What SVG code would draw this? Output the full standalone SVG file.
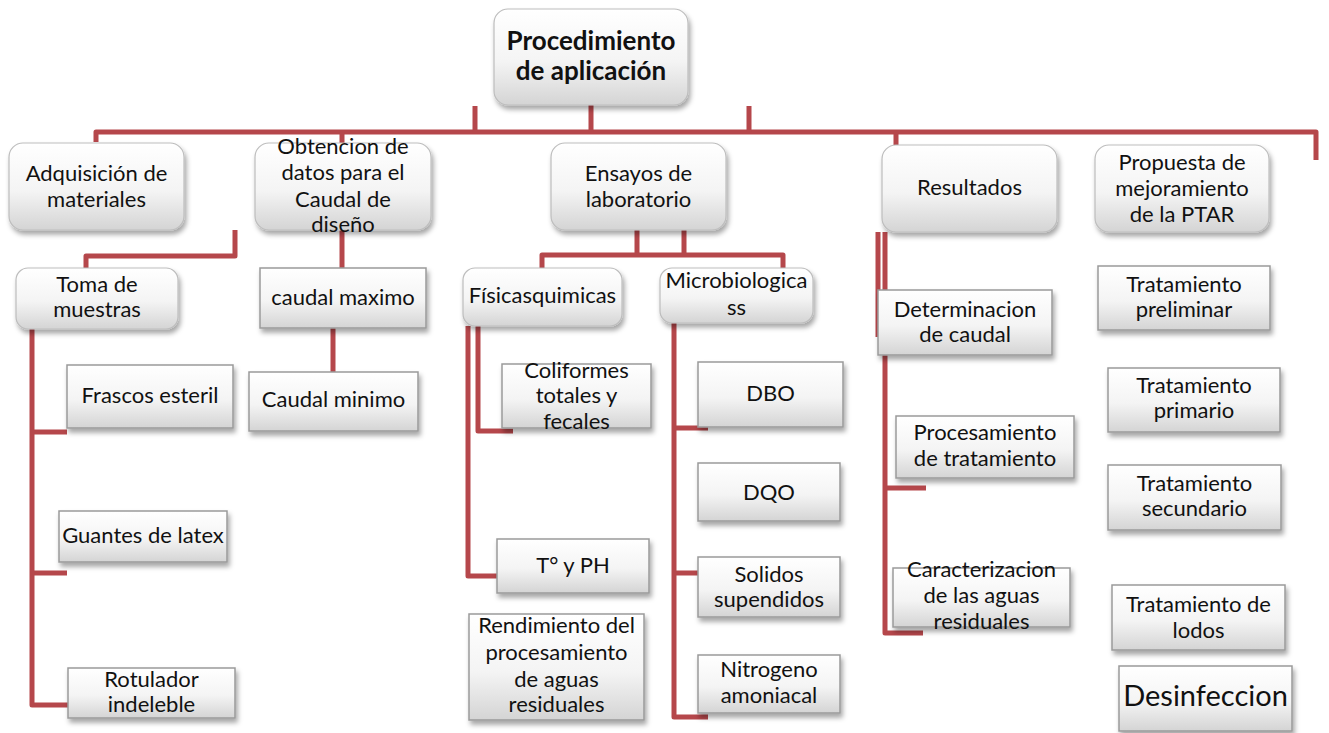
<svg xmlns="http://www.w3.org/2000/svg" width="1329" height="733" viewBox="0 0 1329 733">
<defs>
<linearGradient id="g" x1="0" y1="0" x2="0" y2="1">
<stop offset="0" stop-color="#ffffff"/>
<stop offset="0.55" stop-color="#f4f4f4"/>
<stop offset="1" stop-color="#d4d4d4"/>
</linearGradient>
<filter id="sh" x="-10%" y="-10%" width="125%" height="135%">
<feDropShadow dx="2" dy="4" stdDeviation="2.5" flood-color="#000" flood-opacity="0.35"/>
</filter>
</defs>
<style>
.c{fill:none;stroke:#b5474b;stroke-width:5;stroke-linejoin:round}
.r{fill:url(#g);stroke:#bdbdbd;stroke-width:1.2;filter:url(#sh)}
.b{fill:url(#g);stroke:#9a9a9a;stroke-width:1.5;filter:url(#sh)}
text{font-family:Lato,"Liberation Sans",sans-serif;font-size:22px;fill:#111;text-anchor:middle}
.t{font-weight:bold;font-size:26px}
.big{font-size:29px}
</style>
<rect width="1329" height="733" fill="#fff"/>
<g id="connectors">
<path class="c" d="M96,142 V132 H1316 V160"/>
<path class="c" d="M475,106 V132 M591,105 V132 M749,106 V132 M342,132 V143 M896,132 V145"/>
<path class="c" d="M235,230 V256 H86 V268"/>
<path class="c" d="M342,230 V268"/>
<path class="c" d="M333,328 V372"/>
<path class="c" d="M32,329 V705 H68 M32,432 H67 M32,573 H67"/>
<path class="c" d="M637,230 V256 M684,230 V256 M542,268 V255 H783 V268"/>
<path class="c" d="M468,326 V576 H497 M478,326 V431 H513"/>
<path class="c" d="M674,323 V717 H708 M674,428 H708 M674,573 H698"/>
<path class="c" d="M878,232 V337 M885,232 V633 H923 M885,488 H926"/>
</g>
<g id="n-top"><rect class="r" x="494" y="9" width="194" height="96" rx="14"/><text class="t" x="591" y="50">Procedimiento</text><text class="t" x="591" y="80">de aplicación</text></g>
<g id="n-adq"><rect class="r" x="9" y="143" width="175" height="87" rx="14"/><text x="96.5" y="181">Adquisición de</text><text x="96.5" y="207">materiales</text></g>
<g id="n-obt"><rect class="r" x="255" y="143" width="176" height="87" rx="14"/><text x="343" y="154">Obtencion de</text><text x="343" y="180">datos para el</text><text x="343" y="207">Caudal de</text><text x="343" y="232">diseño</text></g>
<g id="n-ens"><rect class="r" x="551" y="143" width="175" height="87" rx="14"/><text x="638.5" y="181">Ensayos de</text><text x="638.5" y="207">laboratorio</text></g>
<g id="n-res"><rect class="r" x="882" y="145" width="175" height="87" rx="14"/><text x="969.5" y="195">Resultados</text></g>
<g id="n-pro"><rect class="r" x="1095" y="145" width="174" height="87" rx="14"/><text x="1182" y="170">Propuesta de</text><text x="1182" y="196">mejoramiento</text><text x="1182" y="222">de la PTAR</text></g>
<g id="n-toma"><rect class="r" x="16" y="268" width="162" height="61" rx="12"/><text x="97" y="292">Toma de</text><text x="97" y="317">muestras</text></g>
<g id="n-cmax"><rect class="b" x="260" y="268" width="166" height="60"/><text x="343" y="305">caudal maximo</text></g>
<g id="n-fras"><rect class="b" x="67" y="365" width="166" height="63"/><text x="150" y="403">Frascos esteril</text></g>
<g id="n-cmin"><rect class="b" x="249" y="372" width="169" height="59"/><text x="333.5" y="407">Caudal minimo</text></g>
<g id="n-guan"><rect class="b" x="59" y="511" width="168" height="51"/><text x="143" y="543">Guantes de latex</text></g>
<g id="n-rot"><rect class="b" x="68" y="668" width="167" height="50"/><text x="151.5" y="687">Rotulador</text><text x="151.5" y="712">indeleble</text></g>
<g id="n-fis"><rect class="r" x="463" y="268" width="159" height="58" rx="12"/><text x="542.5" y="303">Físicasquimicas</text></g>
<g id="n-mic"><rect class="r" x="660" y="268" width="153" height="55" rx="12"/><text x="736.5" y="288">Microbiologica</text><text x="736.5" y="315">ss</text></g>
<g id="n-col"><rect class="b" x="502" y="364" width="149" height="64"/><text x="576.5" y="378">Coliformes</text><text x="576.5" y="403">totales y</text><text x="576.5" y="429">fecales</text></g>
<g id="n-dbo"><rect class="b" x="698" y="362" width="145" height="65"/><text x="770.5" y="401">DBO</text></g>
<g id="n-dqo"><rect class="b" x="698" y="463" width="142" height="58"/><text x="769" y="500">DQO</text></g>
<g id="n-tph"><rect class="b" x="497" y="539" width="152" height="54"/><text x="573" y="573">T° y PH</text></g>
<g id="n-sol"><rect class="b" x="698" y="557" width="142" height="60"/><text x="769" y="582">Solidos</text><text x="769" y="607">supendidos</text></g>
<g id="n-ren"><rect class="b" x="469" y="614" width="175" height="106"/><text x="556.5" y="633">Rendimiento del</text><text x="556.5" y="660">procesamiento</text><text x="556.5" y="687">de aguas</text><text x="556.5" y="712">residuales</text></g>
<g id="n-nit"><rect class="b" x="698" y="655" width="142" height="58"/><text x="769" y="677">Nitrogeno</text><text x="769" y="703">amoniacal</text></g>
<g id="n-det"><rect class="b" x="878" y="290" width="174" height="65"/><text x="965" y="317">Determinacion</text><text x="965" y="342">de caudal</text></g>
<g id="n-proc"><rect class="b" x="896" y="416" width="178" height="62"/><text x="985" y="440">Procesamiento</text><text x="985" y="466">de tratamiento</text></g>
<g id="n-car"><rect class="b" x="893" y="568" width="177" height="59"/><text x="981.5" y="577">Caracterizacion</text><text x="981.5" y="603">de las aguas</text><text x="981.5" y="629">residuales</text></g>
<g id="n-tpre"><rect class="b" x="1098" y="266" width="172" height="64"/><text x="1184" y="292">Tratamiento</text><text x="1184" y="317">preliminar</text></g>
<g id="n-tpri"><rect class="b" x="1108" y="368" width="172" height="64"/><text x="1194" y="393">Tratamiento</text><text x="1194" y="418">primario</text></g>
<g id="n-tsec"><rect class="b" x="1108" y="465" width="173" height="65"/><text x="1194.5" y="491">Tratamiento</text><text x="1194.5" y="516">secundario</text></g>
<g id="n-tlod"><rect class="b" x="1112" y="585" width="173" height="65"/><text x="1198.5" y="612">Tratamiento de</text><text x="1198.5" y="638">lodos</text></g>
<g id="n-des"><rect class="b" x="1119" y="666" width="173" height="65"/><text class="big" x="1205.5" y="706">Desinfeccion</text></g>
</svg>
